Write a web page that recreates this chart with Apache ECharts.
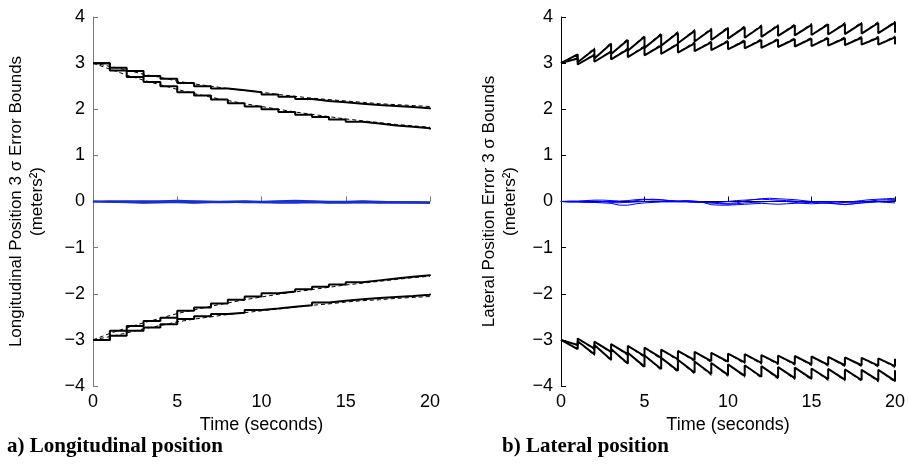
<!DOCTYPE html>
<html><head><meta charset="utf-8">
<script src="https://cdn.jsdelivr.net/npm/echarts@6/dist/echarts.min.js"></script>
<style>html,body{margin:0;padding:0;background:#fff}#c{width:908px;height:466px}</style>
</head><body><div id="c"></div>
<script>
// ---------- data ----------
const secs = [0,1,2,3,4,5,6,7,8,9,10,11,12,13,14,15,16,17,18,19,20];
const halfSecs = [0,0.5,1,1.5,2,2.5,3,3.5,4,4.5,5,5.5,6,6.5,7,7.5,8,8.5,9,9.5,10,10.5,11,11.5,12,12.5,13,13.5,14,14.5,15,15.5,16,16.5,17,17.5,18,18.5,19,19.5,20];
const xTicks = [0,5,10,15,20];
const yTicks = [-4,-3,-2,-1,0,1,2,3,4];

// (a) longitudinal: staircase bounds (value held over [t, t+1))
const lonUpA  = [3.00,2.90,2.83,2.72,2.66,2.57,2.50,2.45,2.41,2.37,2.32,2.27,2.22,2.18,2.15,2.12,2.09,2.07,2.05,2.02,2.00];
const lonUpB  = [3.00,2.84,2.70,2.59,2.50,2.37,2.30,2.21,2.13,2.06,2.00,1.94,1.88,1.83,1.78,1.73,1.69,1.65,1.62,1.59,1.56];
const lonUpAd = [3.00,2.93,2.85,2.76,2.69,2.61,2.55,2.50,2.45,2.41,2.37,2.32,2.28,2.24,2.21,2.18,2.15,2.12,2.10,2.08,2.06];
const lonUpBd = [3.00,2.87,2.74,2.63,2.53,2.43,2.34,2.26,2.19,2.12,2.06,2.00,1.94,1.89,1.84,1.79,1.75,1.71,1.67,1.64,1.61];
const lonLoC  = [-3.00,-2.91,-2.80,-2.73,-2.66,-2.55,-2.49,-2.44,-2.41,-2.35,-2.32,-2.28,-2.25,-2.19,-2.15,-2.12,-2.09,-2.07,-2.05,-2.02,-2.00];
const lonLoD  = [-3.00,-2.80,-2.70,-2.59,-2.52,-2.37,-2.30,-2.21,-2.13,-2.06,-1.99,-1.95,-1.90,-1.85,-1.80,-1.75,-1.71,-1.67,-1.63,-1.60,-1.58];
const lonLoCd = [-3.00,-2.93,-2.85,-2.76,-2.69,-2.61,-2.55,-2.50,-2.45,-2.41,-2.37,-2.33,-2.29,-2.25,-2.22,-2.18,-2.15,-2.13,-2.10,-2.08,-2.06];
const lonLoDd = [-3.00,-2.86,-2.74,-2.63,-2.53,-2.43,-2.35,-2.27,-2.20,-2.13,-2.07,-2.01,-1.96,-1.91,-1.86,-1.81,-1.77,-1.73,-1.69,-1.65,-1.62];
const lonErr1 = [0,0,-0.01,-0.02,-0.02,-0.01,0,0,-0.01,-0.02,-0.02,-0.01,-0.01,0,-0.01,-0.02,-0.02,-0.02,-0.01,-0.02,-0.03];
const lonErr2 = [0,-0.01,-0.02,-0.03,-0.02,-0.02,-0.03,-0.02,-0.02,-0.01,-0.02,-0.03,-0.03,-0.02,-0.03,-0.03,-0.02,-0.03,-0.03,-0.03,-0.03];
const lonErr3 = [0,0.01,0.01,0,0.01,0.02,0.01,0,0,0.01,0,0.01,0.02,0.01,0,0,0.01,0,-0.01,-0.01,-0.02];
const lonErr4 = [0,-0.01,0,0.01,0,-0.01,-0.02,-0.01,0,0,-0.01,0,0,-0.01,-0.02,-0.01,0,-0.01,-0.02,-0.02,-0.02];

// (b) lateral: sawtooth bounds; troughs at t=0..20 (after update), peaks at t=1..20 (before update)
const latATrough = [3.00,3.02,3.10,3.20,3.27,3.33,3.38,3.43,3.47,3.50,3.53,3.55,3.57,3.59,3.60,3.61,3.62,3.63,3.64,3.65,3.66];
const latAPeak   = [3.19,3.30,3.42,3.50,3.57,3.62,3.66,3.70,3.73,3.76,3.78,3.80,3.81,3.82,3.83,3.84,3.85,3.86,3.87,3.88];
const latAPeakD  = [3.20,3.33,3.45,3.53,3.60,3.65,3.69,3.73,3.76,3.79,3.81,3.83,3.84,3.85,3.86,3.87,3.88,3.89,3.90,3.91];
const latBTrough = [3.00,2.97,3.03,3.08,3.13,3.17,3.20,3.23,3.26,3.28,3.30,3.32,3.33,3.35,3.36,3.37,3.38,3.39,3.40,3.40,3.41];
const latBPeak   = [3.10,3.18,3.25,3.30,3.35,3.38,3.41,3.43,3.45,3.47,3.48,3.50,3.51,3.52,3.53,3.54,3.54,3.55,3.55,3.56];
const latBPeakD  = [3.12,3.20,3.27,3.33,3.38,3.41,3.44,3.46,3.48,3.50,3.51,3.53,3.54,3.55,3.56,3.57,3.57,3.58,3.58,3.59];
const latCTrough = [-3.00,-2.97,-3.04,-3.09,-3.13,-3.17,-3.21,-3.24,-3.26,-3.28,-3.30,-3.31,-3.33,-3.34,-3.35,-3.36,-3.37,-3.38,-3.39,-3.40,-3.41];
const latCPeak   = [-3.11,-3.19,-3.26,-3.31,-3.35,-3.39,-3.42,-3.44,-3.46,-3.47,-3.49,-3.50,-3.51,-3.52,-3.53,-3.54,-3.55,-3.55,-3.56,-3.57];
const latCPeakD  = [-3.12,-3.21,-3.28,-3.34,-3.38,-3.42,-3.45,-3.47,-3.49,-3.50,-3.52,-3.53,-3.54,-3.55,-3.56,-3.57,-3.58,-3.58,-3.59,-3.60];
const latDTrough = [-3.00,-3.03,-3.11,-3.20,-3.28,-3.34,-3.39,-3.43,-3.47,-3.50,-3.53,-3.55,-3.57,-3.59,-3.60,-3.62,-3.63,-3.64,-3.65,-3.65,-3.66];
const latDPeak   = [-3.20,-3.31,-3.43,-3.51,-3.58,-3.63,-3.67,-3.71,-3.74,-3.76,-3.78,-3.80,-3.82,-3.83,-3.84,-3.85,-3.86,-3.87,-3.88,-3.89];
const latDPeakD  = [-3.21,-3.34,-3.46,-3.54,-3.61,-3.66,-3.70,-3.74,-3.77,-3.79,-3.81,-3.83,-3.85,-3.86,-3.87,-3.88,-3.89,-3.90,-3.91,-3.92];
const latErr1 = [0,0,-0.01,0,0.01,0,-0.02,-0.03,-0.01,0.02,0.04,0.05,0.04,0.02,0.01,0.02,0.01,-0.01,-0.03,-0.04,-0.04,-0.03,0.01,0.04,0.06,0.07,0.06,0.05,0.04,0.02,0,-0.01,-0.02,-0.03,-0.02,0,0.02,0.04,0.05,0.06,0.07];
const latErr2 = [0,-0.01,-0.01,-0.02,-0.02,-0.03,-0.04,-0.08,-0.08,-0.05,-0.03,-0.02,-0.01,0,-0.01,-0.01,-0.02,-0.02,-0.07,-0.08,-0.08,-0.07,-0.06,-0.05,-0.04,-0.05,-0.06,-0.05,-0.04,-0.03,-0.02,-0.03,-0.04,-0.05,-0.07,-0.05,-0.03,-0.02,-0.01,-0.02,-0.03];
const latErr3 = [0,0.01,0.01,0.02,0.03,0.03,0.02,0.01,0.02,0.04,0.05,0.04,0.03,0.02,0.01,0,-0.01,-0.02,-0.03,-0.02,0,0.02,0.03,0.04,0.05,0.04,0.03,0.02,0.01,-0.01,-0.02,-0.01,0,0,-0.01,-0.02,-0.01,0.01,0.03,0.04,0.04];
const latErr4 = [0,-0.01,0,-0.01,-0.02,-0.01,0,-0.01,-0.02,-0.01,0,0.01,0,-0.01,0,0.01,0,-0.01,-0.02,-0.05,-0.06,-0.05,-0.03,-0.02,-0.01,0,0.01,0,-0.02,-0.04,-0.05,-0.04,-0.03,-0.05,-0.06,-0.05,-0.03,-0.01,0,0.01,0.02];

const titles = {
  lonY: 'Longitudinal Position 3 \u03c3 Error Bounds\n(meters\u00b2)',
  latY: 'Lateral Position Error 3 \u03c3 Bounds\n(meters\u00b2)',
  x: 'Time (seconds)',
  capA: 'a) Longitudinal position',
  capB: 'b) Lateral position'
};

// ---------- helpers ----------
const pair = (xs, ys) => xs.map((x, i) => [x, ys[i]]);
function saw(troughs, peaks) {
  const pts = [[secs[0], troughs[0]]];
  for (let k = 1; k < secs.length; k++) {
    pts.push([secs[k], peaks[k - 1]]);
    pts.push([secs[k], troughs[k]]);
  }
  return pts;
}
const FONT = 'Liberation Sans';
const fmtY = v => (v < 0 ? '\u2212' + (-v) : String(v));

function xAxisCfg(gi, col) {
  return {
    type: 'value', gridIndex: gi, min: 0, max: 20, interval: 5,
    axisLine: { show: true, lineStyle: { color: col, width: 1 } },
    axisTick: { show: true, inside: true, length: 5, lineStyle: { color: col } },
    axisLabel: { color: '#000', fontSize: 18, fontFamily: FONT, margin: 7,
      formatter: v => xTicks.includes(v) ? String(v) : '' },
    splitLine: { show: false },
    name: titles.x, nameLocation: 'middle', nameGap: 24,
    nameTextStyle: { color: '#000', fontSize: 18, fontFamily: FONT }
  };
}
function yAxisCfg(gi, col, name, gap) {
  return {
    type: 'value', gridIndex: gi, min: -4, max: 4, interval: 1,
    axisLine: { show: true, onZero: false, lineStyle: { color: col, width: 1 } },
    axisTick: { show: true, inside: true, length: 5, lineStyle: { color: col } },
    axisLabel: { color: '#000', fontSize: 18, fontFamily: FONT, margin: 8,
      formatter: v => yTicks.includes(v) ? fmtY(v) : '' },
    splitLine: { show: false },
    name: name, nameLocation: 'middle', nameGap: gap,
    nameTextStyle: { color: '#000', fontSize: 17, fontFamily: FONT, lineHeight: 21 }
  };
}
function line(gi, data, opts) {
  return Object.assign({
    type: 'line', xAxisIndex: gi, yAxisIndex: gi, data: data,
    showSymbol: false, symbol: 'none', silent: true, animation: false,
    lineStyle: { color: '#000', width: 2 }
  }, opts || {});
}
const dashed = { color: '#000', width: 1, type: [4, 3] };
const blue = (c, w) => ({ color: c, width: w });

const series = [
  // (a)
  line(0, pair(secs, lonUpAd), { lineStyle: dashed }),
  line(0, pair(secs, lonUpBd), { lineStyle: dashed }),
  line(0, pair(secs, lonLoCd), { lineStyle: dashed }),
  line(0, pair(secs, lonLoDd), { lineStyle: dashed }),
  line(0, pair(secs, lonUpA), { step: 'end' }),
  line(0, pair(secs, lonUpB), { step: 'end' }),
  line(0, pair(secs, lonLoC), { step: 'end' }),
  line(0, pair(secs, lonLoD), { step: 'end' }),
  line(0, pair(secs, lonErr1), { lineStyle: blue('#1a2fd0', 1.5) }),
  line(0, pair(secs, lonErr2), { lineStyle: blue('#1a2fd0', 1.5) }),
  line(0, pair(secs, lonErr3), { lineStyle: blue('#1a2fd0', 1.5) }),
  line(0, pair(secs, lonErr4), { lineStyle: blue('#1a2fd0', 1.5) }),
  // (b)
  line(1, saw(latATrough, latAPeakD), { lineStyle: dashed }),
  line(1, saw(latBTrough, latBPeakD), { lineStyle: dashed }),
  line(1, saw(latCTrough, latCPeakD), { lineStyle: dashed }),
  line(1, saw(latDTrough, latDPeakD), { lineStyle: dashed }),
  line(1, saw(latATrough, latAPeak)),
  line(1, saw(latBTrough, latBPeak)),
  line(1, saw(latCTrough, latCPeak)),
  line(1, saw(latDTrough, latDPeak)),
  line(1, pair(halfSecs, latErr1), { lineStyle: blue('#0000ff', 1) }),
  line(1, pair(halfSecs, latErr2), { lineStyle: blue('#0000ff', 1) }),
  line(1, pair(halfSecs, latErr3), { lineStyle: blue('#0000ff', 1) }),
  line(1, pair(halfSecs, latErr4), { lineStyle: blue('#0000ff', 1) })
];

const chart = echarts.init(document.getElementById('c'), null, { renderer: 'canvas' });
chart.setOption({
  animation: false,
  backgroundColor: '#fff',
  grid: [
    { left: 93, right: 478, top: 17, bottom: 80 },
    { left: 561, right: 11, top: 17, bottom: 80 }
  ],
  xAxis: [xAxisCfg(0, '#777'), xAxisCfg(1, '#000')],
  yAxis: [yAxisCfg(0, '#777', titles.lonY, 45), yAxisCfg(1, '#000', titles.latY, 40)],
  series: series,
  graphic: [
    { type: 'text', left: 7, top: 436, style: { text: titles.capA, font: 'bold 21px "Liberation Serif"', fill: '#000' } },
    { type: 'text', left: 502, top: 436, style: { text: titles.capB, font: 'bold 21px "Liberation Serif"', fill: '#000' } }
  ]
});
</script></body></html>
